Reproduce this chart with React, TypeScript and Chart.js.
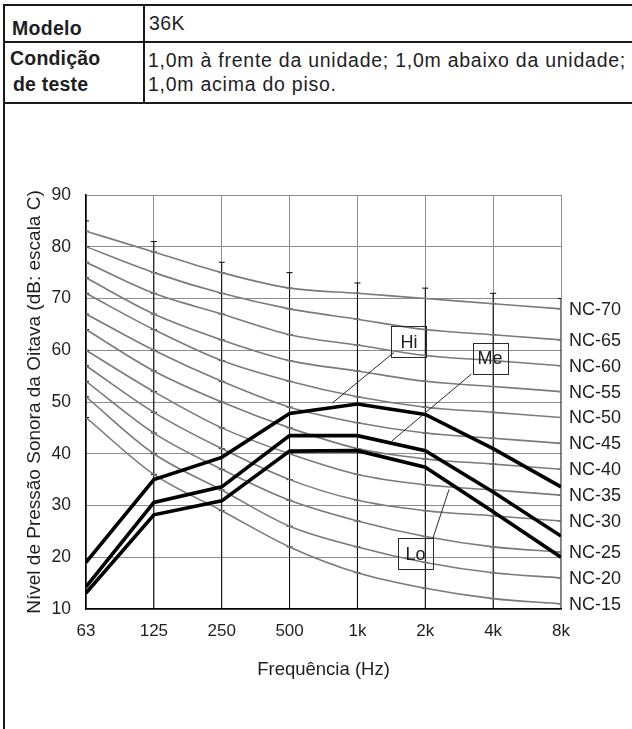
import React, { useEffect, useRef } from 'react';
import { Chart, registerables } from 'chart.js';

Chart.register(...registerables);

// ---- data ----
const freqLabels = ['63', '125', '250', '500', '1k', '2k', '4k', '8k'];
const yTickMin = 10;
const yTickMax = 90;
const yTickStep = 10;

const hiValues = [19, 35, 39.3, 47.8, 49.6, 47.6, 41, 33.6];
const meValues = [14.3, 30.6, 33.6, 43.5, 43.5, 40.6, 32.6, 24.1];
const loValues = [13.1, 28.2, 30.9, 40.5, 40.6, 37.4, 28.8, 20];

const ncNames = ['NC-70', 'NC-65', 'NC-60', 'NC-55', 'NC-50', 'NC-45', 'NC-40', 'NC-35', 'NC-30', 'NC-25', 'NC-20', 'NC-15'];
const nc70 = [83, 79, 75, 72, 71, 70, 69, 68];
const nc65 = [80, 75, 71, 68, 66, 64, 63, 62];
const nc60 = [77, 71, 67, 63, 61, 59, 58, 57];
const nc55 = [74, 67, 62, 58, 56, 54, 53, 52];
const nc50 = [71, 64, 58, 54, 51, 49, 48, 47];
const nc45 = [67, 60, 54, 49, 46, 44, 43, 42];
const nc40 = [64, 56, 50, 45, 41, 39, 38, 37];
const nc35 = [60, 52, 45, 40, 36, 34, 33, 32];
const nc30 = [57, 48, 41, 35, 31, 29, 28, 27];
const nc25 = [54, 44, 37, 31, 27, 24, 22, 21];
const nc20 = [51, 40, 33, 26, 22, 19, 17, 16];
const nc15 = [47, 36, 29, 22, 17, 14, 12, 11];
const ncCurves = [nc70, nc65, nc60, nc55, nc50, nc45, nc40, nc35, nc30, nc25, nc20, nc15];

// top of the black NC measuring scale at each frequency
const scaleTop = [85, 81, 77, 75, 73, 72, 71, 70];

// callouts (in data units: x = frequency index, y = dB)
const calloutText = ['Hi', 'Me', 'Lo'];
const calloutBoxX1 = [4.5, 5.7, 4.6];
const calloutBoxX2 = [5.02, 6.21, 5.11];
const calloutBoxY1 = [64.6, 61.4, 23.7];
const calloutBoxY2 = [58.6, 55.4, 17.7];
const calloutFromX = [4.54, 5.68, 5.11];
const calloutFromY = [59.6, 55.4, 23.6];
const calloutToX = [3.63, 4.51, 5.35];
const calloutToY = [49.8, 42.5, 33.1];

const FONT = "'Liberation Sans', Arial, sans-serif";
const TEXT = '#1e1e1e';

const overlayPlugin = {
  id: 'overlay',
  afterDatasetsDraw(chart: any) {
    const { ctx, chartArea, scales } = chart;
    const xs = scales.x;
    const ys = scales.y;
    ctx.save();
    // NC labels
    ctx.fillStyle = TEXT;
    ctx.font = `18px ${FONT}`;
    ctx.textAlign = 'left';
    ctx.textBaseline = 'middle';
    ncCurves.forEach((c, i) => {
      const last = c[c.length - 1];
      ctx.fillText(ncNames[i], chartArea.right + 8, ys.getPixelForValue(last) + 1);
    });
    // callouts
    ctx.strokeStyle = '#2a2a2a';
    ctx.lineWidth = 1;
    calloutText.forEach((t, i) => {
      const x1 = xs.getPixelForValue(calloutBoxX1[i]);
      const x2 = xs.getPixelForValue(calloutBoxX2[i]);
      const y1 = ys.getPixelForValue(calloutBoxY1[i]);
      const y2 = ys.getPixelForValue(calloutBoxY2[i]);
      ctx.strokeRect(Math.round(x1) + 0.5, Math.round(y1) + 0.5, Math.round(x2 - x1), Math.round(y2 - y1));
      ctx.beginPath();
      ctx.moveTo(xs.getPixelForValue(calloutFromX[i]), ys.getPixelForValue(calloutFromY[i]));
      ctx.lineTo(xs.getPixelForValue(calloutToX[i]), ys.getPixelForValue(calloutToY[i]));
      ctx.stroke();
      ctx.font = `18px ${FONT}`;
      ctx.textAlign = 'center';
      ctx.textBaseline = 'middle';
      ctx.fillText(t, (x1 + x2) / 2, (y1 + y2) / 2 + 1);
    });
    ctx.restore();
  },
};

function toPoints(arr: number[]) {
  return arr.map((v, i) => ({ x: i, y: v }));
}

export default function App() {
  const ref = useRef<HTMLCanvasElement | null>(null);

  useEffect(() => {
    if (!ref.current) return;
    const datasets: any[] = [];
    [hiValues, meValues, loValues].forEach((vals) => {
      datasets.push({
        type: 'line',
        data: toPoints(vals),
        borderColor: '#000',
        borderWidth: 3.6,
        pointRadius: 0,
        tension: 0,
        borderJoinStyle: 'miter',
      });
    });
    ncCurves.forEach((c) => {
      datasets.push({
        type: 'line',
        data: toPoints(c),
        borderColor: '#7a7a7a',
        borderWidth: 1.6,
        pointRadius: 0,
        cubicInterpolationMode: 'monotone',
      });
    });
    // NC measuring scale ticks
    const tickPts: { x: number; y: number }[] = [];
    ncCurves.forEach((c) => c.forEach((v, i) => tickPts.push({ x: i, y: v })));
    scaleTop.forEach((v, i) => tickPts.push({ x: i, y: v }));
    datasets.push({
      type: 'scatter',
      data: tickPts,
      pointStyle: 'line',
      pointRadius: 3,
      borderColor: '#000',
      borderWidth: 1,
      backgroundColor: '#000',
    });
    // black vertical scales
    scaleTop.forEach((top, i) => {
      if (i === 0) return;
      datasets.push({
        type: 'line',
        data: [
          { x: i, y: yTickMin },
          { x: i, y: top },
        ],
        borderColor: '#000',
        borderWidth: 1,
        pointRadius: 0,
      });
    });

    const chart = new Chart(ref.current, {
      type: 'line',
      data: { datasets },
      options: {
        responsive: false,
        animation: false,
        events: [],
        layout: { padding: { left: 0, top: 91, right: 71, bottom: 0 } },
        plugins: { legend: { display: false }, tooltip: { enabled: false } },
        scales: {
          x: {
            type: 'linear',
            min: 0,
            max: freqLabels.length - 1,
            afterFit: (s: any) => {
              s.height = 120;
            },
            ticks: {
              stepSize: 1,
              autoSkip: false,
              maxRotation: 0,
              padding: 12,
              color: TEXT,
              font: { family: FONT, size: 17 },
              callback: (v: any) => freqLabels[Number(v)] ?? '',
            },
            grid: { color: '#8c8c8c', lineWidth: 1, drawTicks: false },
            border: { color: '#000', width: 1.5 },
            title: {
              display: true,
              text: 'Frequência (Hz)',
              color: TEXT,
              font: { family: FONT, size: 18.5 },
              padding: { top: 4, bottom: 48 },
            },
          },
          y: {
            type: 'linear',
            min: yTickMin,
            max: yTickMax,
            afterFit: (s: any) => {
              s.width = 81;
            },
            ticks: {
              stepSize: yTickStep,
              padding: 15,
              color: TEXT,
              font: { family: FONT, size: 17.5 },
            },
            grid: { color: '#8c8c8c', lineWidth: 1, drawTicks: false },
            border: { color: '#000', width: 1.5 },
            title: {
              display: true,
              text: 'Nível de Pressão Sonora da Oitava (dB: escala C)',
              color: TEXT,
              font: { family: FONT, size: 19 },
              padding: { top: 18, bottom: 0 },
            },
          },
        },
      },
      plugins: [overlayPlugin],
    } as any);
    return () => chart.destroy();
  }, []);

  const line = (s: React.CSSProperties): React.CSSProperties => ({
    position: 'absolute',
    background: '#1a1a1a',
    ...s,
  });
  const txt = (s: React.CSSProperties): React.CSSProperties => ({
    position: 'absolute',
    fontFamily: FONT,
    color: TEXT,
    lineHeight: 1,
    whiteSpace: 'nowrap',
    ...s,
  });

  return (
    <div style={{ position: 'absolute', left: 0, top: 0, width: 632, height: 729, overflow: 'hidden', background: '#fff' }}>
      {/* table lines */}
      <div style={line({ left: 3, top: 4, width: 629, height: 2 })} />
      <div style={line({ left: 3, top: 41, width: 629, height: 2 })} />
      <div style={line({ left: 3, top: 102, width: 629, height: 2 })} />
      <div style={line({ left: 3, top: 4, width: 2, height: 725 })} />
      <div style={line({ left: 143, top: 4, width: 2, height: 100 })} />
      {/* table text */}
      <div style={txt({ left: 12, top: 19, fontSize: 19.5, fontWeight: 'bold', letterSpacing: 0.3 })}>Modelo</div>
      <div style={txt({ left: 149, top: 14, fontSize: 19.5, letterSpacing: 0.4 })}>36K</div>
      <div style={txt({ left: 10, top: 48.5, fontSize: 19.5, fontWeight: 'bold', letterSpacing: 0.2 })}>Condição</div>
      <div style={txt({ left: 13, top: 75, fontSize: 19.5, fontWeight: 'bold', letterSpacing: 0.2 })}>de teste</div>
      <div style={txt({ left: 148, top: 50.5, fontSize: 19.5, letterSpacing: 0.75 })}>1,0m à frente da unidade; 1,0m abaixo da unidade;</div>
      <div style={txt({ left: 148, top: 74.5, fontSize: 19.5, letterSpacing: 0.75 })}>1,0m acima do piso.</div>
      <canvas
        ref={ref}
        width={627}
        height={625}
        style={{ position: 'absolute', left: 5, top: 104, width: 627, height: 625, display: 'block' }}
      />
    </div>
  );
}
